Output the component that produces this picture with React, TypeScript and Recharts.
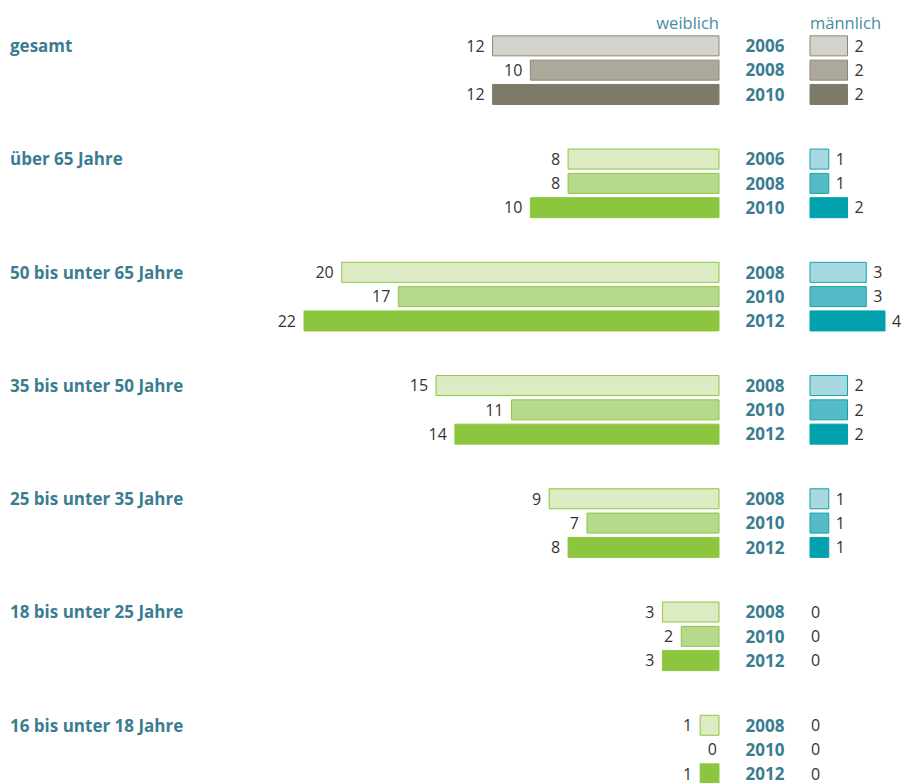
import { BarChart, Bar, XAxis, YAxis, Cell, LabelList } from "recharts";

const groups = [
  "gesamt",
  "über 65 Jahre",
  "50 bis unter 65 Jahre",
  "35 bis unter 50 Jahre",
  "25 bis unter 35 Jahre",
  "18 bis unter 25 Jahre",
  "16 bis unter 18 Jahre",
];
const years = [
  ["2006", "2008", "2010"],
  ["2006", "2008", "2010"],
  ["2008", "2010", "2012"],
  ["2008", "2010", "2012"],
  ["2008", "2010", "2012"],
  ["2008", "2010", "2012"],
  ["2008", "2010", "2012"],
];
const weiblich = [
  [12, 10, 12],
  [8, 8, 10],
  [20, 17, 22],
  [15, 11, 14],
  [9, 7, 8],
  [3, 2, 3],
  [1, 0, 1],
];
const maennlich = [
  [2, 2, 2],
  [1, 1, 2],
  [3, 3, 4],
  [2, 2, 2],
  [1, 1, 1],
  [0, 0, 0],
  [0, 0, 0],
];

// fill / stroke per row (light, middle, dark)
const grayFill = ["#d4d3cb", "#aca99b", "#7e7a6a"];
const grayStroke = ["#8c877a", "#8c877a", "#7e7a6a"];
const greenFill = ["#dcebc3", "#b7d98b", "#8cc63f"];
const greenStroke = ["#8cc63f", "#8cc63f", "#8cc63f"];
const tealFill = ["#a8d9e1", "#55bcc7", "#00a0ad"];
const tealStroke = ["#13a0ac", "#13a0ac", "#00a0ad"];

const GROUP_STEP = 4.66;
const TEXT = "#333333";
const BLUE = "#3a7d90";
const FONT = "'Open Sans', sans-serif";

const rows = groups.flatMap((g, gi) =>
  years[gi].map((y, ri) => ({
    group: g,
    gi,
    ri,
    year: y,
    pos: gi * GROUP_STEP + ri,
    w: weiblich[gi][ri],
    m: maennlich[gi][ri],
  }))
);
const maxPos = rows[rows.length - 1].pos;

const fillFor = (r: any, side: "w" | "m") => {
  if (r[side] === 0) return "none";
  return r.gi === 0 ? grayFill[r.ri] : side === "w" ? greenFill[r.ri] : tealFill[r.ri];
};
const strokeFor = (r: any, side: "w" | "m") => {
  if (r[side] === 0) return "none";
  return r.gi === 0 ? grayStroke[r.ri] : side === "w" ? greenStroke[r.ri] : tealStroke[r.ri];
};

const LeftLabel = (props: any) => {
  const { x, y, width, height, value } = props;
  const left = Math.min(x, x + width);
  const gap = value === 0 ? 2 : 8;
  return (
    <text x={left - gap} y={y + height / 2} dy="0.36em" textAnchor="end" fontSize={16} fill={TEXT} fontFamily={FONT}>
      {value}
    </text>
  );
};

const RightLabel = (props: any) => {
  const { x, y, width, height, value } = props;
  const right = Math.max(x, x + width);
  const gap = value === 0 ? 1 : 7;
  return (
    <text x={right + gap} y={y + height / 2} dy="0.36em" textAnchor="start" fontSize={16} fill={TEXT} fontFamily={FONT}>
      {value}
    </text>
  );
};

const YearTick = (props: any) => {
  const { x, y, index } = props;
  const r = rows[index];
  return (
    <g>
      <text x={x + 46} y={y} dy="0.36em" textAnchor="middle" fontSize={17} fontWeight={700} fill={BLUE} fontFamily={FONT}>
        {r.year}
      </text>
      {r.ri === 0 && (
        <text x={10} y={y} dy="0.36em" textAnchor="start" fontSize={17} fontWeight={700} fill={BLUE} fontFamily={FONT}>
          {r.group}
        </text>
      )}
    </g>
  );
};

export default function App() {
  return (
    <div style={{ position: "absolute", left: 0, top: 0, width: 904, height: 783, overflow: "hidden", background: "#fff", fontFamily: FONT }}>
      <div style={{ position: "absolute", right: 904 - 719, top: 11, fontSize: 16.5, color: "#4a8b9c" }}>weiblich</div>
      <div style={{ position: "absolute", left: 810, top: 11, fontSize: 16.5, color: "#4a8b9c" }}>männlich</div>

      <div style={{ position: "absolute", left: 0, top: 0 }}>
        <BarChart width={904} height={783} data={rows} layout="vertical" margin={{ top: 46, bottom: 9, left: 304, right: 94 }}>
          <XAxis type="number" dataKey="w" domain={[0, 22]} reversed hide />
          <YAxis
            type="number"
            dataKey="pos"
            orientation="right"
            domain={[0, maxPos]}
            ticks={rows.map((r) => r.pos)}
            width={91}
            axisLine={false}
            tickLine={false}
            tickSize={0}
            tickMargin={0}
            tick={<YearTick />}
            interval={0}
          />
          <Bar dataKey="w" barSize={20} minPointSize={0.01} isAnimationActive={false}>
            {rows.map((r, i) => (
              <Cell key={i} fill={fillFor(r, "w")} stroke={strokeFor(r, "w")} strokeWidth={1} />
            ))}
            <LabelList dataKey="w" content={<LeftLabel />} />
          </Bar>
        </BarChart>
      </div>

      <div style={{ position: "absolute", left: 0, top: 0 }}>
        <BarChart width={904} height={783} data={rows} layout="vertical" margin={{ top: 46, bottom: 9, left: 810, right: 19 }}>
          <XAxis type="number" dataKey="m" domain={[0, 4]} hide />
          <YAxis type="number" dataKey="pos" domain={[0, maxPos]} ticks={rows.map((r) => r.pos)} hide />
          <Bar dataKey="m" barSize={20} minPointSize={0.01} isAnimationActive={false}>
            {rows.map((r, i) => (
              <Cell key={i} fill={fillFor(r, "m")} stroke={strokeFor(r, "m")} strokeWidth={1} />
            ))}
            <LabelList dataKey="m" content={<RightLabel />} />
          </Bar>
        </BarChart>
      </div>
    </div>
  );
}
